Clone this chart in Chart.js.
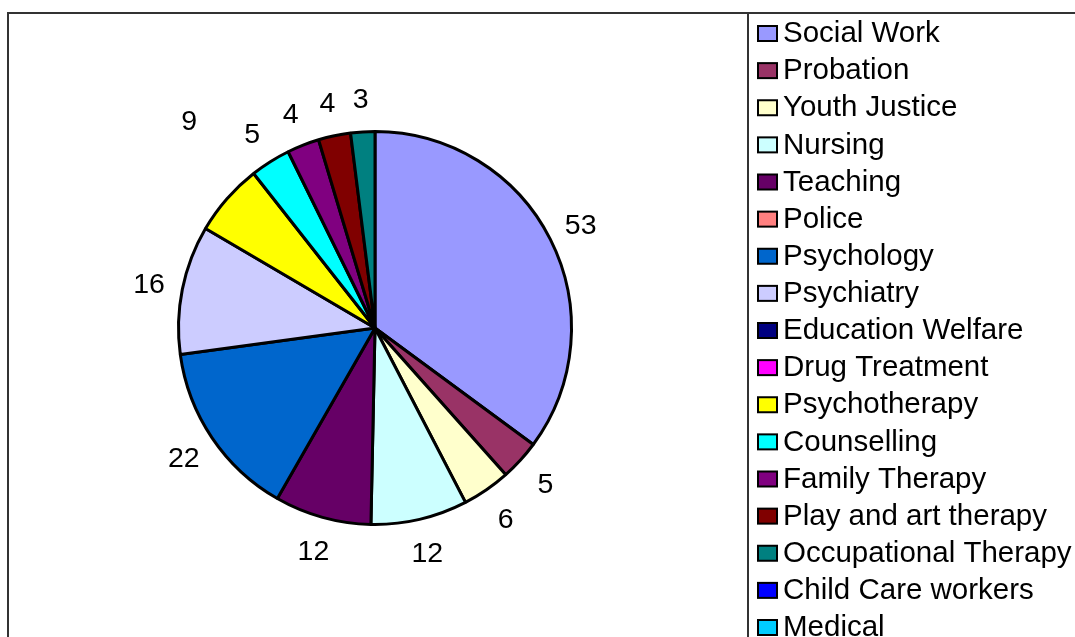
<!DOCTYPE html>
<html>
<head>
<meta charset="utf-8">
<script src="https://cdn.jsdelivr.net/npm/chart.js@4"></script>
<style>
  html, body { margin: 0; padding: 0; background: #fff; }
  canvas { display: block; }
</style>
</head>
<body>
<canvas id="pieChart" width="1075" height="637"></canvas>
<script>
// Data
const professions = [
    'Social Work', 'Probation', 'Youth Justice', 'Nursing', 'Teaching',
    'Police', 'Psychology', 'Psychiatry', 'Education Welfare', 'Drug Treatment',
    'Psychotherapy', 'Counselling', 'Family Therapy', 'Play and art therapy',
    'Occupational Therapy', 'Child Care workers', 'Medical'
];
const counts = [53, 5, 6, 12, 12, null, 22, 16, null, null, 9, 5, 4, 4, 3, null, null];
const sliceColors = [
    '#9999FF', '#993366', '#FFFFCC', '#CCFFFF', '#660066',
    '#FF8080', '#0066CC', '#CCCCFF', '#000080', '#FF00FF',
    '#FFFF00', '#00FFFF', '#800080', '#800000', '#008080',
    '#0000FF', '#00CCFF'
];

const fontFamily = '"Liberation Sans", Arial, sans-serif';
// the one label that was dragged away from its slice
const labelNudge = { 'Psychotherapy': { dr: 48, da: 7 } };

// value labels outside the slices
const valueLabels = {
    id: 'valueLabels',
    afterDatasetsDraw: (chart) => {
        const ctx = chart.ctx;
        const meta = chart.getDatasetMeta(0);
        ctx.save();
        ctx.font = '28.5px ' + fontFamily;
        ctx.fillStyle = '#000';
        ctx.textAlign = 'center';
        ctx.textBaseline = 'middle';
        meta.data.forEach((arc, i) => {
            const v = counts[i];
            if (!v) return;
            const p = arc.getProps(['x', 'y', 'startAngle', 'endAngle', 'outerRadius'], true);
            const n = labelNudge[professions[i]] || { dr: 0, da: 0 };
            const a = (p.startAngle + p.endAngle) / 2 + n.da * Math.PI / 180;
            const r = p.outerRadius + 34 + n.dr;
            ctx.fillText(String(v), p.x + Math.cos(a) * r, p.y + Math.sin(a) * r + 2);
        });
        ctx.restore();
    }
};

// frame + legend box like the original sheet
const frameAndLegend = {
    id: 'frameAndLegend',
    afterDraw: (chart) => {
        const ctx = chart.ctx;
        ctx.save();
        ctx.strokeStyle = '#333';
        ctx.lineWidth = 2;
        ctx.beginPath();
        ctx.moveTo(8, 640);
        ctx.lineTo(8, 13);
        ctx.lineTo(1080, 13);
        ctx.moveTo(748, 13);
        ctx.lineTo(748, 640);
        ctx.stroke();

        ctx.font = '29.5px ' + fontFamily;
        ctx.textBaseline = 'middle';
        ctx.textAlign = 'left';
        professions.forEach((name, i) => {
            const y = 33 + i * 37.125;
            ctx.fillStyle = sliceColors[i];
            ctx.fillRect(758, y - 7, 19, 15);
            ctx.strokeStyle = '#000';
            ctx.lineWidth = 2;
            ctx.strokeRect(758, y - 7, 19, 15);
            ctx.fillStyle = '#000';
            ctx.fillText(name, 783, y + 1);
        });
        ctx.restore();
    }
};

const pieChart = document.getElementById('pieChart');
const myPieChart = new Chart(pieChart, {
    type: 'pie',
    data: {
        labels: professions,
        datasets: [{
            data: counts,
            backgroundColor: sliceColors,
            borderColor: '#000',
            borderWidth: 3
        }]
    },
    plugins: [valueLabels, frameAndLegend],
    options: {
        responsive: false,
        animation: false,
        devicePixelRatio: 1,
        layout: {
            padding: {
                left: 177,
                right: 502,
                top: 130,
                bottom: 111
            }
        },
        plugins: {
            legend: { display: false },
            tooltip: { enabled: false }
        }
    }
});
</script>
</body>
</html>
